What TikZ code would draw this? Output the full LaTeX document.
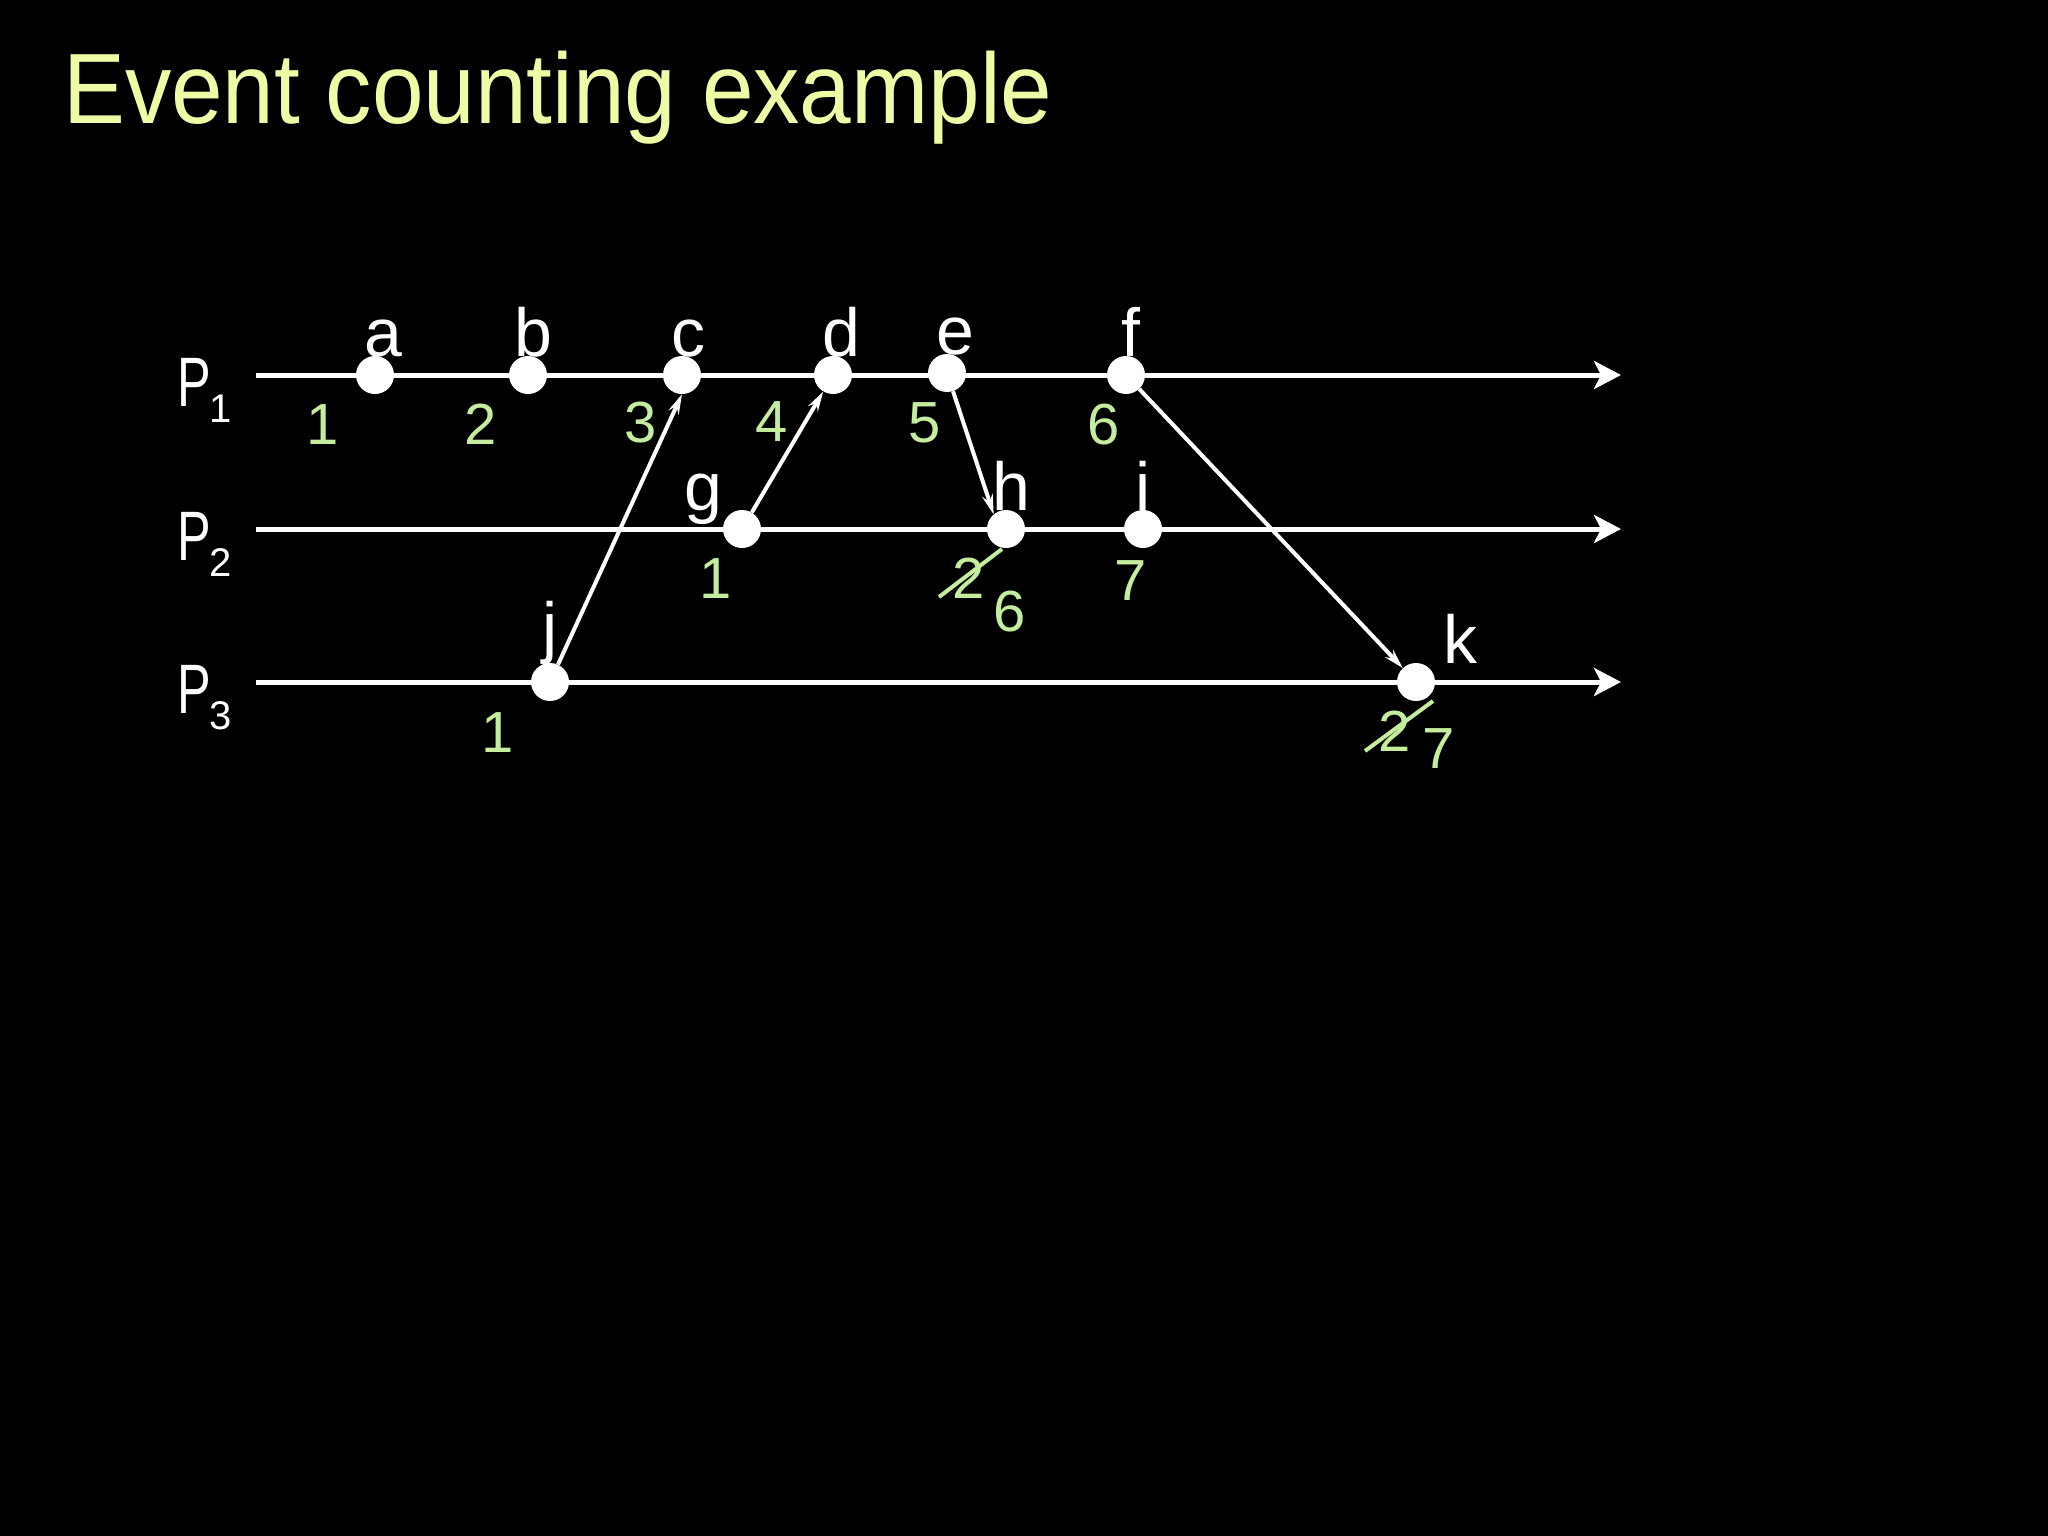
\documentclass[tikz,border=0pt]{standalone}
\usepackage{fontspec}
\setmainfont{Liberation Sans}
\usetikzlibrary{arrows.meta,shapes.geometric}
\definecolor{titlecol}{RGB}{240,252,165}
\definecolor{numcol}{RGB}{196,238,158}
\begin{document}
\begin{tikzpicture}[x=1pt,y=-1pt,
  dot/.style={circle, fill=white, minimum size=38pt, inner sep=0pt},
  evlabel/.style={text=white, font=\fontsize{68}{68}\selectfont, anchor=base, inner sep=0pt},
  num/.style={text=numcol, font=\fontsize{58}{58}\selectfont, anchor=base, inner sep=0pt},
  timeline/.style={white, line width=5pt, -{Stealth[length=27pt,width=28pt,inset=7pt]}},
  msg/.style={white, line width=4pt, -{Stealth[length=20pt,width=11pt,inset=7pt]}},
  strike/.style={numcol, line width=4pt},
  proc/.style={text=white, font=\fontsize{70}{70}\selectfont, anchor=base west, inner sep=0pt},
  sub/.style={text=white, font=\fontsize{40}{40}\selectfont, anchor=base, inner sep=0pt},
]
\fill[black] (0,0) rectangle (2048,1536);
\useasboundingbox (0,0) rectangle (2048,1536);

% title
\node[anchor=base west, text=titlecol, font=\fontsize{100}{100}\selectfont, inner sep=0pt] (title) at (63,124) {\scalebox{0.927}[1]{Event counting example}};

% process labels
\node[proc] (P1) at (177,406) {\scalebox{0.72}[1]{P}};
\node[sub] (P1s) at (221,422) {1};
\node[proc] (P2) at (177,560) {\scalebox{0.72}[1]{P}};
\node[sub] (P2s) at (221,576) {2};
\node[proc] (P3) at (177,713) {\scalebox{0.72}[1]{P}};
\node[sub] (P3s) at (221,729) {3};

% timelines
\coordinate (t1s) at (256,375); \coordinate (t1e) at (1621,375);
\coordinate (t2s) at (256,529); \coordinate (t2e) at (1621,529);
\coordinate (t3s) at (256,682); \coordinate (t3e) at (1621,682);
\draw[timeline] (t1s) -- (t1e);
\draw[timeline] (t2s) -- (t2e);
\draw[timeline] (t3s) -- (t3e);

% events
\node[dot] (a) at (375,375) {};
\node[dot] (b) at (528,375) {};
\node[dot] (c) at (682,375) {};
\node[dot] (d) at (833,375) {};
\node[dot] (e) at (947,373) {};
\node[dot] (f) at (1126,375) {};
\node[dot] (g) at (742,529) {};
\node[dot] (h) at (1006,529) {};
\node[dot] (i) at (1143,529) {};
\node[dot] (j) at (550,682) {};
\node[dot] (k) at (1416,682) {};

% event labels
\node[evlabel] (la) at (383,356) {a};
\node[evlabel] (lb) at (533,356) {b};
\node[evlabel] (lc) at (688,356) {c};
\node[evlabel] (ld) at (841,356) {d};
\node[evlabel] (le) at (955,354) {e};
\node[evlabel] (lf) at (1131,356) {f};
\node[evlabel] (lg) at (703,510) {g};
\node[evlabel] (lh) at (1011,510) {h};
\node[evlabel] (li) at (1143,510) {i};
\node[evlabel] (lj) at (550,650) {j};
\node[evlabel] (lk) at (1460,663) {k};

% messages
\draw[msg] (j) -- (c.south);
\draw[msg] (g) -- (d);
\draw[msg] (e) -- (h.130);
\draw[msg] (f) -- (k);

% counts
\node[num] (n1) at (323,444) {1};
\node[num] (n2) at (481,444) {2};
\node[num] (n3) at (641,442) {3};
\node[num] (n4) at (772,441) {4};
\node[num] (n5) at (925,442) {5};
\node[num] (n6) at (1104,444) {6};
\node[num] (ng) at (716,598) {1};
\node[num] (nh) at (969,598) {2};
\node[num] (nh2) at (1010,631) {6};
\node[num] (ni) at (1131,600) {7};
\node[num] (nj) at (498,752) {1};
\node[num] (nk) at (1395,751) {2};
\node[num] (nk2) at (1439,768) {7};

% strike-throughs
\coordinate (s1a) at (939,597); \coordinate (s1b) at (1002,549);
\coordinate (s2a) at (1365,751); \coordinate (s2b) at (1433,701);
\draw[strike] (s1a) -- (s1b);
\draw[strike] (s2a) -- (s2b);
\end{tikzpicture}
\end{document}
